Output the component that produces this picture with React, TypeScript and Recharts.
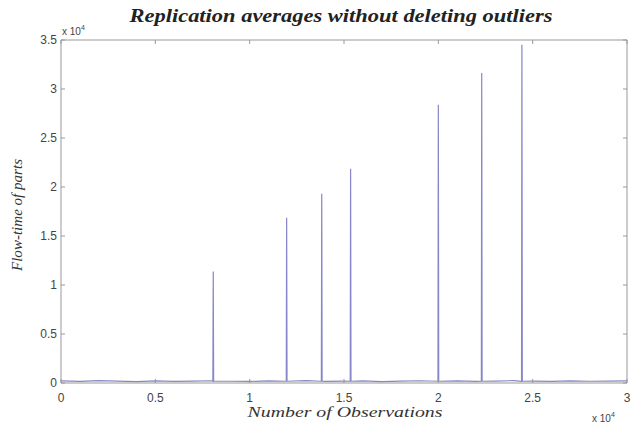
import React from "react";
import { LineChart, Line, XAxis, YAxis } from "recharts";

// replication averages, number of observations vs flow-time (raw units)
const spikeObs = [8070, 11960, 13820, 15350, 20000, 22300, 24430];
const spikeFlow = [11390, 16870, 19320, 21870, 28400, 31630, 34520];
const spikeFoot = 180;

const baseObs = [
    0, 1000, 2000, 3000, 4000, 5000, 6000, 7000, 8000, 9000, 10000, 11000, 12000, 13000, 14000, 15000,
    16000, 17000, 18000, 19000, 20000, 21000, 22000, 23000, 24000, 25000, 26000, 27000, 28000, 29000, 30000,
];
const baseFlow = [
    210, 160, 240, 190, 150, 220, 170, 200, 230, 180, 160, 210, 190, 240, 170, 200,
    220, 150, 190, 230, 180, 210, 160, 200, 240, 190, 170, 220, 180, 200, 210,
];

const xTicks = [0, 5000, 10000, 15000, 20000, 25000, 30000];
const yTicks = [0, 5000, 10000, 15000, 20000, 25000, 30000, 35000];

const points: { obs: number; flow: number }[] = [];
baseObs.forEach((o, i) => {
    if (!spikeObs.some((s) => Math.abs(s - o) < 60)) points.push({ obs: o, flow: baseFlow[i] });
});
spikeObs.forEach((s, i) => {
    points.push({ obs: s - 20, flow: spikeFoot });
    points.push({ obs: s, flow: spikeFlow[i] });
    points.push({ obs: s + 20, flow: spikeFoot });
});
points.sort((a, b) => a.obs - b.obs);

const fmt = (v: number) => String(v / 10000);
const blank = () => "";
const sans = "Liberation Sans, Arial, sans-serif";
const serif = "Liberation Serif, Times New Roman, serif";
const tickStyle = { fontSize: 12, fill: "#444", fontFamily: sans };

export default function App() {
    return (
        <div style={{ position: "absolute", left: 0, top: 0, width: 631, height: 425, background: "#fff" }}>
            <LineChart width={631} height={425} data={points} margin={{ top: 39, right: 3, bottom: 0, left: 0 }}>
                <XAxis
                    dataKey="obs"
                    type="number"
                    domain={[0, 30000]}
                    ticks={xTicks}
                    tickFormatter={fmt}
                    height={42}
                    tickSize={-4}
                    tickMargin={14}
                    stroke="#999"
                    tick={tickStyle}
                />
                <XAxis
                    xAxisId="top"
                    orientation="top"
                    dataKey="obs"
                    type="number"
                    domain={[0, 30000]}
                    ticks={xTicks}
                    tickFormatter={blank}
                    height={1}
                    tickSize={-4}
                    stroke="#999"
                />
                <YAxis
                    type="number"
                    domain={[0, 35000]}
                    ticks={yTicks}
                    tickFormatter={fmt}
                    width={61}
                    tickSize={-4}
                    tickMargin={8}
                    stroke="#999"
                    tick={tickStyle}
                />
                <YAxis
                    yAxisId="right"
                    orientation="right"
                    type="number"
                    domain={[0, 35000]}
                    ticks={yTicks}
                    tickFormatter={blank}
                    width={1}
                    tickSize={-4}
                    stroke="#999"
                />
                {/* same series on the top/right axes, hidden, so the box sides render */}
                <Line
                    xAxisId="top"
                    yAxisId="right"
                    dataKey="flow"
                    stroke="transparent"
                    dot={false}
                    isAnimationActive={false}
                />
                <Line
                    dataKey="flow"
                    type="linear"
                    stroke="#8686c8"
                    strokeWidth={1.2}
                    dot={false}
                    isAnimationActive={false}
                />
            </LineChart>
            <svg width={631} height={425} style={{ position: "absolute", left: 0, top: 0, pointerEvents: "none" }}>
                <text
                    x={341}
                    y={22}
                    textAnchor="middle"
                    fontFamily={serif}
                    fontStyle="italic"
                    fontWeight="bold"
                    fontSize={18}
                    fill="#222"
                    textLength={423}
                    lengthAdjust="spacingAndGlyphs"
                >
                    Replication averages without deleting outliers
                </text>
                <text x={62} y={35} fontFamily={sans} fontSize={10} fill="#444">
                    x 10<tspan dy={-5} fontSize={7}>4</tspan>
                </text>
                <text x={592} y={422} fontFamily={sans} fontSize={10} fill="#444">
                    x 10<tspan dy={-5} fontSize={7}>4</tspan>
                </text>
                <text
                    x={345}
                    y={417}
                    textAnchor="middle"
                    fontFamily={serif}
                    fontStyle="italic"
                    fontSize={15}
                    fill="#333"
                    textLength={195}
                    lengthAdjust="spacingAndGlyphs"
                >
                    Number of Observations
                </text>
                <text
                    x={22}
                    y={215}
                    textAnchor="middle"
                    transform="rotate(-90 22 215)"
                    fontFamily={serif}
                    fontStyle="italic"
                    fontSize={14}
                    fill="#333"
                    textLength={112}
                    lengthAdjust="spacingAndGlyphs"
                >
                    Flow-time of parts
                </text>
            </svg>
        </div>
    );
}
